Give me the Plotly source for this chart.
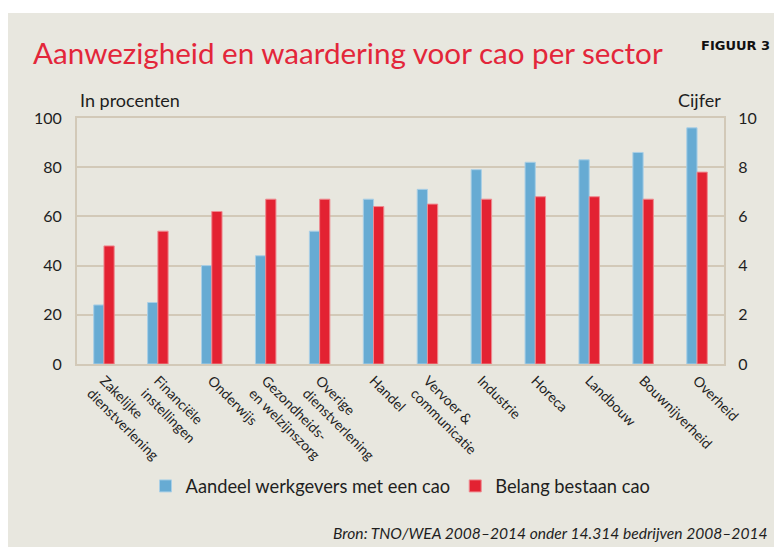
import plotly.graph_objects as go

categories = ["Zakelijke<br>dienstverlening", "Financiële<br>instellingen", "Onderwijs",
              "Gezondheids-<br>en welzijnszorg", "Overige<br>dienstverlening", "Handel",
              "Vervoer &<br>communicatie", "Industrie", "Horeca", "Landbouw",
              "Bouwnijverheid", "Overheid"]
aandeel = [24, 25, 40, 44, 54, 67, 71, 79, 82, 83, 86, 96]
belang = [4.8, 5.4, 6.2, 6.7, 6.7, 6.4, 6.5, 6.7, 6.8, 6.8, 6.7, 7.8]
left_ticks = [0, 20, 40, 60, 80, 100]
right_ticks = [0, 2, 4, 6, 8, 10]

BLUE = "#67abd3"
RED = "#e32232"
BG = "#e8e7df"
GRID = "#d2c9b8"
TXT = "#1e1e1e"

fig = go.Figure()
fig.add_trace(go.Bar(x=categories, y=aandeel, name="Aandeel werkgevers met een cao",
                     marker=dict(color=BLUE, line=dict(color="#a9cfe6", width=1)),
                     width=0.19, offset=-0.19, yaxis="y"))
fig.add_trace(go.Bar(x=categories, y=belang, name="Belang bestaan cao",
                     marker=dict(color=RED, line=dict(color="#ef8a90", width=1)),
                     width=0.19, offset=0, yaxis="y2"))

OFF = 8  # page body margin
W, H = 782 - OFF, 547 - OFF
L, R, T, B = 77, 724, 118, 364  # reference pixel positions of plot area
pw, ph = R - L, B - T

def px(x):
    return (x - L) / pw

def py(y):
    return (B - y) / ph

fig.update_layout(
    width=W, height=H,
    margin=dict(l=L - OFF, r=W - (R - OFF), t=T - OFF, b=H - (B - OFF)),
    paper_bgcolor="white",
    plot_bgcolor=BG,
    font=dict(family="Lato", color=TXT),
    barmode="overlay",
    showlegend=True,
    legend=dict(orientation="h", x=0.5, xanchor="center", y=py(486), yanchor="middle",
                font=dict(size=18.3, family="Lato", color=TXT), bgcolor="rgba(0,0,0,0)",
                itemwidth=30, traceorder="normal"),
    xaxis=dict(tickangle=45, tickfont=dict(size=14, family="Lato", color=TXT),
               showline=True, linecolor=GRID, linewidth=2, mirror=True,
               ticks="outside", ticklen=1, tickcolor="rgba(0,0,0,0)", showgrid=False),
    yaxis=dict(range=[0, 100], tickvals=left_ticks, showgrid=True, gridcolor=GRID, gridwidth=2,
               showline=True, linecolor=GRID, linewidth=2, mirror=True,
               ticks="outside", ticklen=10, tickcolor="rgba(0,0,0,0)",
               tickfont=dict(size=16, family="Lato", color=TXT), zeroline=False),
    yaxis2=dict(range=[0, 10], tickvals=right_ticks, overlaying="y", side="right",
                showgrid=False, ticks="outside", ticklen=10, tickcolor="rgba(0,0,0,0)",
                tickfont=dict(size=16, family="Lato", color=TXT), zeroline=False),
    shapes=[
        dict(type="rect", xref="paper", yref="paper", x0=px(8), x1=px(800), y0=py(560), y1=py(13),
             fillcolor=BG, line=dict(width=0), layer="below"),
    ],
    annotations=[
        dict(text="Aanwezigheid en waardering voor cao per sector", xref="paper", yref="paper",
             x=px(31), y=py(52), xanchor="left", yanchor="middle", showarrow=False,
             font=dict(size=29.6, color="#e3263a", family="Lato")),
        dict(text="<b>FIGUUR 3</b>", xref="paper", yref="paper",
             x=px(772), y=py(46), xanchor="right", yanchor="middle", showarrow=False,
             font=dict(size=13, color="#111", family="DejaVu Sans")),
        dict(text="In procenten", xref="paper", yref="paper",
             x=px(78), y=py(100), xanchor="left", yanchor="middle", showarrow=False,
             font=dict(size=18, color=TXT, family="Lato")),
        dict(text="Cijfer", xref="paper", yref="paper",
             x=px(723), y=py(100), xanchor="right", yanchor="middle", showarrow=False,
             font=dict(size=18, color=TXT, family="Lato")),
        dict(text="<i>Bron: TNO/WEA 2008–2014 onder 14.314 bedrijven 2008–2014</i>", xref="paper", yref="paper",
             x=px(770), y=py(533), xanchor="right", yanchor="middle", showarrow=False,
             font=dict(size=15.6, color=TXT, family="Lato")),
    ],
)

fig.write_html("out.html")
